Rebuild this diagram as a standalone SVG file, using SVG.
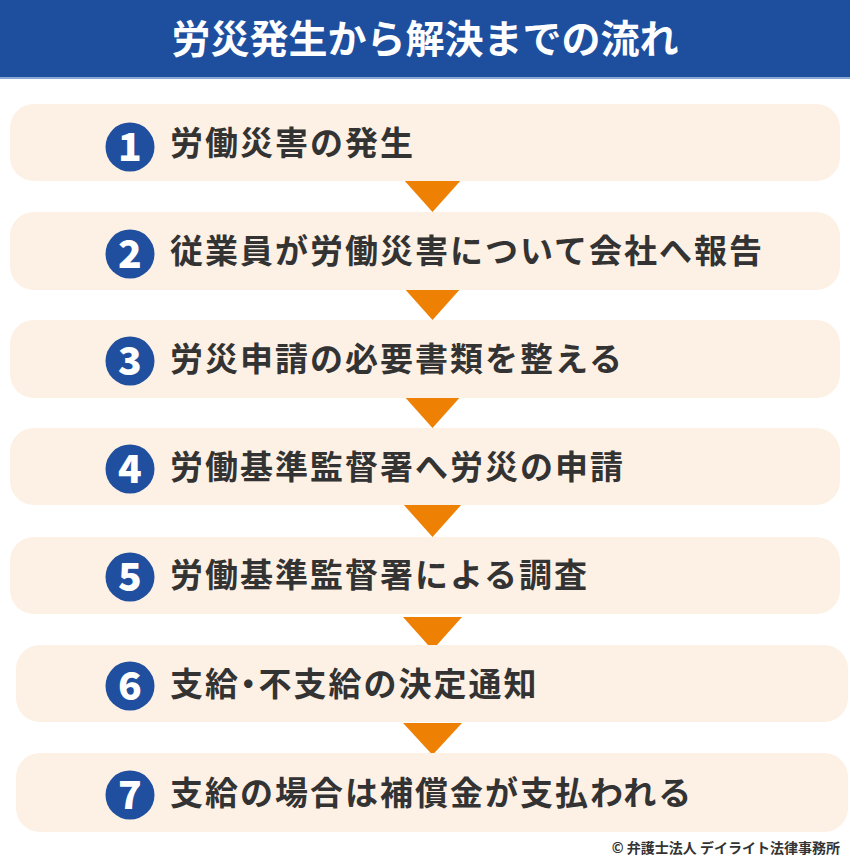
<svg xmlns="http://www.w3.org/2000/svg" width="850" height="860" viewBox="0 0 850 860">
<style>
.box{fill:#fdf0e4}
.num{fill:#1f4f9e}
.numt{fill:#fff;font-family:"Noto Sans CJK JP","Noto Sans",sans-serif;font-weight:900;font-size:39px;text-anchor:middle}
.lbl{fill:#333;font-family:"Noto Sans CJK JP",sans-serif;font-weight:700;font-size:33px;letter-spacing:2px}
.arr{fill:#ee8104}
</style>
<rect x="0" y="0" width="850" height="78" fill="#1e4f9f"/>
<rect x="0" y="77" width="850" height="2" fill="#8aa8d6"/>
<text x="425" y="53" fill="#fff" font-family="'Noto Sans CJK JP',sans-serif" font-weight="700" font-size="39" text-anchor="middle">労災発生から解決までの流れ</text>

<g id="connectors">
<polygon class="arr" points="403,179 462,179 432.5,212"/>
<polygon class="arr" points="403,287 462,287 432.5,320"/>
<polygon class="arr" points="403,395 462,395 432.5,428"/>
<polygon class="arr" points="403,504 462,504 432.5,537"/>
<polygon class="arr" points="403,617 462,617 432.5,650"/>
<polygon class="arr" points="403,723 462,723 432.5,755"/>
</g>

<g id="n1">
<rect class="box" x="10" y="104" width="830" height="77" rx="24"/>
<circle class="num" cx="130" cy="147" r="24.5"/>
<text class="numt" x="130" y="161">1</text>
<text class="lbl" x="170" y="155">労働災害の発生</text>
</g>
<g id="n2">
<rect class="box" x="10" y="212" width="830" height="78" rx="24"/>
<circle class="num" cx="130" cy="254" r="24.5"/>
<text class="numt" x="130" y="268">2</text>
<text class="lbl" x="170" y="263">従業員が労働災害について会社へ報告</text>
</g>
<g id="n3">
<rect class="box" x="10" y="320" width="830" height="78" rx="24"/>
<circle class="num" cx="130" cy="361" r="24.5"/>
<text class="numt" x="130" y="375">3</text>
<text class="lbl" x="170" y="371">労災申請の必要書類を整える</text>
</g>
<g id="n4">
<rect class="box" x="10" y="428" width="830" height="77" rx="24"/>
<circle class="num" cx="130" cy="469" r="24.5"/>
<text class="numt" x="130" y="483">4</text>
<text class="lbl" x="170" y="479">労働基準監督署へ労災の申請</text>
</g>
<g id="n5">
<rect class="box" x="10" y="537" width="830" height="77" rx="24"/>
<circle class="num" cx="130" cy="577" r="24.5"/>
<text class="numt" x="130" y="591">5</text>
<text class="lbl" x="170" y="587">労働基準監督署による調査</text>
</g>
<g id="n6">
<rect class="box" x="16" y="645" width="832" height="77" rx="24"/>
<circle class="num" cx="130" cy="686" r="24.5"/>
<text class="numt" x="130" y="700">6</text>
<text class="lbl" x="170" y="696">支給<tspan style="font-feature-settings:'halt'">・</tspan>不支給の決定通知</text>
</g>
<g id="n7">
<rect class="box" x="16" y="753" width="832" height="79" rx="24"/>
<circle class="num" cx="130" cy="795" r="24.5"/>
<text class="numt" x="130" y="809">7</text>
<text class="lbl" x="170" y="805">支給の場合は補償金が支払われる</text>
</g>

<text x="840" y="853" fill="#333" font-family="'Noto Sans CJK JP',sans-serif" font-weight="700" font-size="14" text-anchor="end">© 弁護士法人 デイライト法律事務所</text>
</svg>
